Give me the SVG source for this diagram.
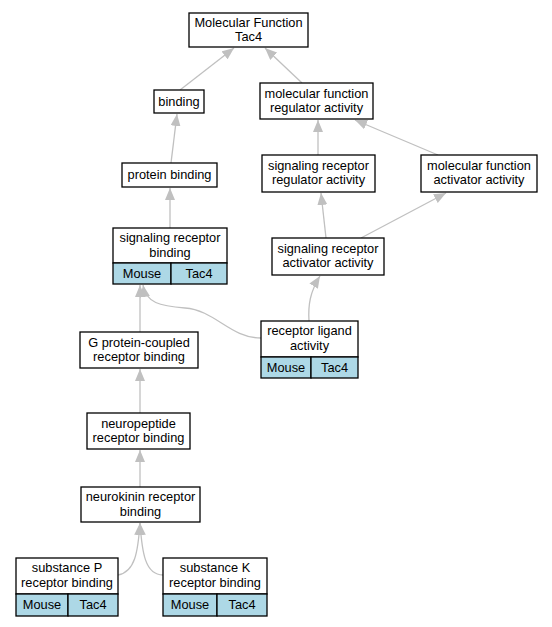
<svg xmlns="http://www.w3.org/2000/svg" width="552" height="627" viewBox="0 0 552 627">
<defs>
<style>
.box{fill:#fff;stroke:#000;stroke-width:1.3}
.cell{fill:#add8e6;stroke:#000;stroke-width:1.3}
.t{font-family:"Liberation Sans",Arial,sans-serif;font-size:12.8px;fill:#000;text-anchor:middle}
.e{fill:none;stroke:#c0c0c0;stroke-width:1.3}
</style>
<marker id="ah" viewBox="0 0 12 10" refX="12" refY="5" markerWidth="12" markerHeight="10" markerUnits="userSpaceOnUse" orient="auto">
<path d="M0,0 L12,5 L0,10 z" fill="#c0c0c0"/>
</marker>
</defs>
<rect width="552" height="627" fill="#fff"/>
<g id="edges">
<path class="e" marker-end="url(#ah)" d="M180,90 L234,48"/>
<path class="e" marker-end="url(#ah)" d="M302,83 L265,48"/>
<path class="e" marker-end="url(#ah)" d="M171,163 L177,114"/>
<path class="e" marker-end="url(#ah)" d="M170,228 L170,188"/>
<path class="e" marker-end="url(#ah)" d="M318,155 L318,120"/>
<path class="e" marker-end="url(#ah)" d="M438,155 L355,120"/>
<path class="e" marker-end="url(#ah)" d="M326,238 L321,193"/>
<path class="e" marker-end="url(#ah)" d="M361,238 L446,193"/>
<path class="e" marker-end="url(#ah)" d="M309,321 C308,305 310,292 320,276"/>
<path class="e" marker-end="url(#ah)" d="M261,338 C230,338 215,310 185,308 C160,306 146,303 143,285"/>
<path class="e" marker-end="url(#ah)" d="M140,333 L140,285"/>
<path class="e" marker-end="url(#ah)" d="M140,416 L140,369"/>
<path class="e" marker-end="url(#ah)" d="M140,487 L140,450"/>
<path class="e" marker-end="url(#ah)" d="M118,575 C135,572 138,552 140,523"/>
<path class="e" marker-end="url(#ah)" d="M163,575 C145,575 142,552 140,523"/>
</g>
<g id="mf_tac4">
<rect class="box" x="189" y="13" width="119" height="34"/>
<text class="t" x="248.5" y="26.5">Molecular Function</text>
<text class="t" x="248.5" y="40.9">Tac4</text>
</g>
<g id="binding">
<rect class="box" x="154" y="90" width="50" height="23"/>
<text class="t" x="179" y="106">binding</text>
</g>
<g id="mf_regulator">
<rect class="box" x="260" y="83" width="113" height="36"/>
<text class="t" x="316.5" y="97.5">molecular function</text>
<text class="t" x="316.5" y="111.9">regulator activity</text>
</g>
<g id="protein_binding">
<rect class="box" x="122" y="163" width="95" height="24"/>
<text class="t" x="169.5" y="179">protein binding</text>
</g>
<g id="sr_regulator">
<rect class="box" x="262" y="155" width="113" height="37"/>
<text class="t" x="318.5" y="169.8">signaling receptor</text>
<text class="t" x="318.5" y="184.2">regulator activity</text>
</g>
<g id="mf_activator">
<rect class="box" x="421" y="155" width="116" height="37"/>
<text class="t" x="479" y="169.8">molecular function</text>
<text class="t" x="479" y="184.2">activator activity</text>
</g>
<g id="sr_binding">
<rect class="box" x="113" y="228" width="114" height="35"/>
<text class="t" x="170" y="242.3">signaling receptor</text>
<text class="t" x="170" y="256.7">binding</text>
<rect class="cell" x="113" y="263" width="58" height="21"/>
<rect class="cell" x="171" y="263" width="56" height="21"/>
<text class="t" x="142" y="277.5">Mouse</text>
<text class="t" x="199" y="277.5">Tac4</text>
</g>
<g id="sr_activator">
<rect class="box" x="272" y="238" width="112" height="37"/>
<text class="t" x="328" y="252.8">signaling receptor</text>
<text class="t" x="328" y="267.2">activator activity</text>
</g>
<g id="receptor_ligand">
<rect class="box" x="261" y="321" width="97" height="36"/>
<text class="t" x="309.5" y="335.3">receptor ligand</text>
<text class="t" x="309.5" y="349.7">activity</text>
<rect class="cell" x="261" y="357" width="50" height="21"/>
<rect class="cell" x="311" y="357" width="47" height="21"/>
<text class="t" x="286" y="371.5">Mouse</text>
<text class="t" x="334.5" y="371.5">Tac4</text>
</g>
<g id="gpcr_binding">
<rect class="box" x="80" y="332" width="118" height="36"/>
<text class="t" x="139" y="346.8">G protein-coupled</text>
<text class="t" x="139" y="361.2">receptor binding</text>
</g>
<g id="neuropeptide">
<rect class="box" x="87" y="413" width="103" height="36"/>
<text class="t" x="138.5" y="427.8">neuropeptide</text>
<text class="t" x="138.5" y="442.2">receptor binding</text>
</g>
<g id="neurokinin">
<rect class="box" x="81" y="487" width="119" height="35"/>
<text class="t" x="140.5" y="501.3">neurokinin receptor</text>
<text class="t" x="140.5" y="515.7">binding</text>
</g>
<g id="substance_p">
<rect class="box" x="16" y="558" width="102" height="36"/>
<text class="t" x="67" y="572.3">substance P</text>
<text class="t" x="67" y="586.7">receptor binding</text>
<rect class="cell" x="16" y="594" width="52" height="22"/>
<rect class="cell" x="68" y="594" width="50" height="22"/>
<text class="t" x="42" y="609">Mouse</text>
<text class="t" x="93" y="609">Tac4</text>
</g>
<g id="substance_k">
<rect class="box" x="163" y="558" width="104" height="36"/>
<text class="t" x="215" y="572.3">substance K</text>
<text class="t" x="215" y="586.7">receptor binding</text>
<rect class="cell" x="163" y="594" width="54" height="22"/>
<rect class="cell" x="217" y="594" width="50" height="22"/>
<text class="t" x="190" y="609">Mouse</text>
<text class="t" x="242" y="609">Tac4</text>
</g>
</svg>
